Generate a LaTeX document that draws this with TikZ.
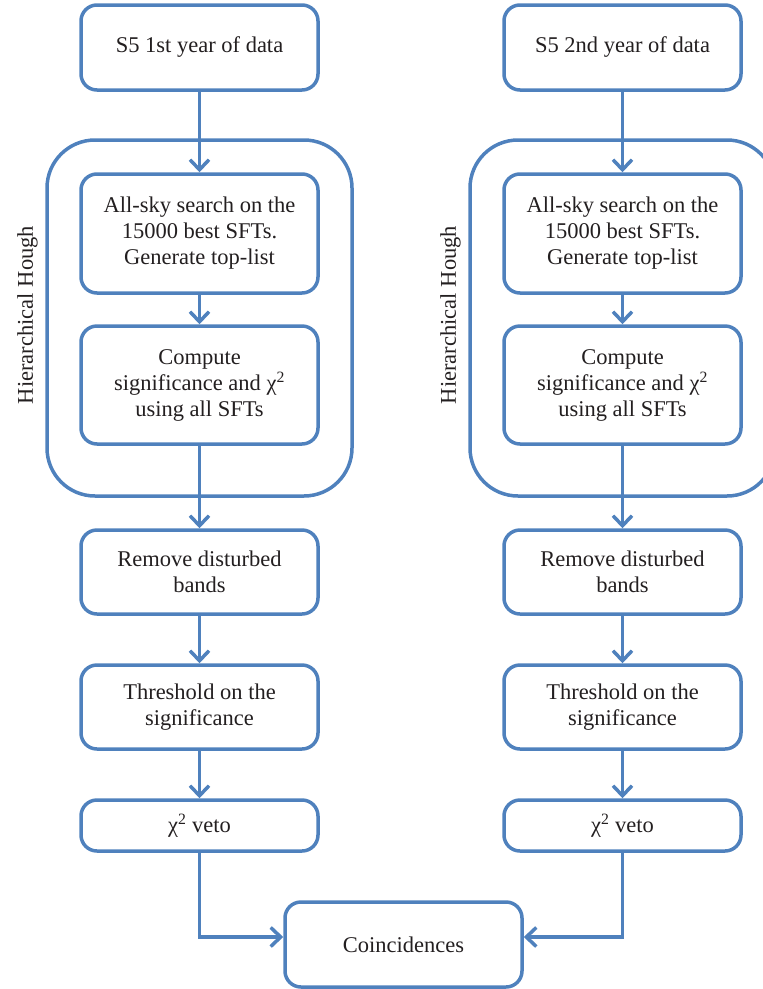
\documentclass[tikz,border=0pt]{standalone}
\usepackage{fontspec}
\setmainfont{Liberation Serif}
\usetikzlibrary{arrows.meta}
\definecolor{flowblue}{HTML}{4F81BD}
\definecolor{txt}{HTML}{231F20}
\begin{document}
\begin{tikzpicture}[x=1pt,y=-1pt,
  stepbox/.style={draw=flowblue, line width=3.5pt, rounded corners=16pt, minimum width=237pt,
    align=center, text=txt, font=\fontsize{22.5}{26}\selectfont, inner sep=0pt},
  groupbox/.style={draw=flowblue, line width=3.5pt, rounded corners=48pt, minimum width=305pt, minimum height=356pt},
  flow/.style={draw=flowblue, line width=3.5pt, -{Straight Barb[length=10pt,width=19pt,line width=3.5pt]}},
  sidelabel/.style={rotate=90, text=txt, font=\fontsize{22.5}{26}\selectfont}]
\useasboundingbox (0,0) rectangle (763,989);
\clip (0,0) rectangle (763,989);
\foreach \cx/\tag/\yr in {199.5/1/1st, 622.5/2/2nd}{
  \node[groupbox] (hh\tag) at (\cx,318) {};
  \node[sidelabel] (hl\tag) at (\cx-172,315) {Hierarchical Hough};
  \node[stepbox, minimum height=85pt] (s\tag) at (\cx,47.5) {S5 \yr\ year of data};
  \node[stepbox, minimum height=119pt] (a\tag) at (\cx,233.5) {All-sky search on the\\15000 best SFTs.\\Generate top-list};
  \node[stepbox, minimum height=118pt] (c\tag) at (\cx,385) {Compute\\significance and χ\textsuperscript{2}\\using all SFTs};
  \node[stepbox, minimum height=84pt] (r\tag) at (\cx,572) {Remove disturbed\\bands};
  \node[stepbox, minimum height=84pt] (t\tag) at (\cx,707) {Threshold on the\\significance};
  \node[stepbox, minimum height=51pt] (v\tag) at (\cx,825.5) {χ\textsuperscript{2} veto};
  \draw[flow] (s\tag.south) -- (a\tag.north);
  \draw[flow] (a\tag.south) -- (c\tag.north);
  \draw[flow] (c\tag.south) -- (r\tag.north);
  \draw[flow] (r\tag.south) -- (t\tag.north);
  \draw[flow] (t\tag.south) -- (v\tag.north);
}
\node[stepbox, minimum height=85pt] (co) at (403.5,944.5) {Coincidences};
\draw[flow] (v1.south) |- ([yshift=7.5pt]co.west);
\draw[flow] (v2.south) |- ([yshift=7.5pt]co.east);
\end{tikzpicture}
\end{document}
